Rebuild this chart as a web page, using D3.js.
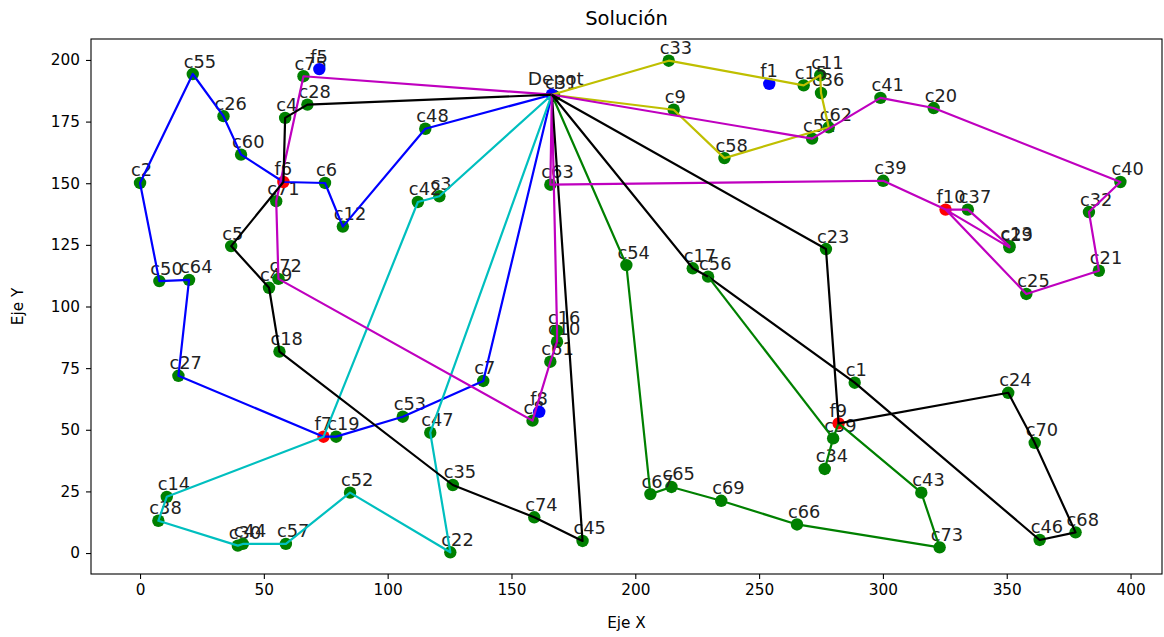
<!DOCTYPE html>
<html>
<head>
<meta charset="utf-8">
<script src="https://cdn.jsdelivr.net/npm/d3@7.9.0/dist/d3.min.js"></script>
<style>
  body { margin: 0; background: #fff; }
  svg { font-family: "DejaVu Sans", sans-serif; }
</style>
</head>
<body>
<svg id="chart" width="1164" height="637"></svg>
<script>
// node names and coordinates
const customerNames = ['c1','c2','c3','c4','c5','c6','c7','c8','c9','c10','c11','c12','c13','c14','c15','c16','c17','c18','c19','c20',
  'c21','c22','c23','c24','c25','c26','c27','c28','c29','c30','c31','c32','c33','c34','c35','c36','c37','c38','c39','c40',
  'c41','c42','c43','c44','c45','c46','c47','c48','c49','c50','c51','c52','c53','c54','c55','c56','c57','c58','c59','c60',
  'c61','c62','c63','c64','c65','c66','c67','c68','c69','c70','c71','c72','c73','c74','c75'];
const customerX = [288.6,0,120.9,58.6,36.8,74.7,138.6,158.5,215.5,168.4,274.7,81.9,351.1,10.8,268,168.4,223.2,56.3,79.2,320.5,
  387.2,125.3,277,350.6,357.9,33.7,15.5,67.6,351.1,39.5,167.2,383.2,213.5,276.5,126.3,275,334.3,7.4,300.1,395.9,
  299,112.2,315.5,41.5,178.7,363.3,117.2,115.2,52.1,7.8,271.4,84.8,106.1,196.4,21.3,229.4,58.9,236,279.9,40.8,
  165.7,278.1,165.7,19.8,214.6,265.3,206.1,377.8,234.7,361.3,55,55.9,322.9,159.2,66];
const customerY = [69.1,150.1,144.7,176.5,124.5,150.1,69.8,53.7,179.8,85.7,193.8,132.4,124.5,22.8,189.7,90.2,115.5,81.7,47.2,180.5,
  114.5,0.3,123.3,65,105.1,177.2,71.9,181.9,124,3,185.4,138.3,199.7,34.1,27.6,186.6,139.3,13.1,151,150.5,
  184.6,142.4,24.5,3.7,4.9,5.3,48.8,172.1,107.6,110.3,168.1,24.5,55.3,116.8,194.3,112.1,3.7,160.2,46.5,161.6,
  77.6,172.7,149.4,110.8,26.8,11.6,23.9,8.4,21.2,44.7,142.7,111.2,2.3,14.5,193.4];

const stationNames = ['f1','f5','f6','f7','f8','f9','f10'];
const stationX = [254.1,72.4,57.9,74.1,161.2,282.1,325.3];
const stationY = [190.3,196.3,150.5,47.2,57.3,52.6,139.3];
const stationUsed = [false,false,true,true,false,true,true];

const depotX = 166.3;
const depotY = 185.9;

// routes as visited stops
const routeStops = [
  ['Depot','c48','c12','c6','f6','c60','c26','c55','c2','c50','c64','c27','f7','c19','c53','c7','Depot'],
  ['Depot','c54','c67','c65','c69','c66','c73','c43','f9','c59','c34'],
  ['Depot','c3','c42','f7','c14','c38','c30','c44','c57','c52','c22','c47','Depot'],
  ['Depot','c75','c71','c72','c8','c61','c10','c16','Depot'],
  ['Depot','c33','c15','c11','c36','c62','c58','c9','Depot'],
  ['Depot','c28','c4','f6','c5','c49','c18','c35','c74','c45','Depot'],
  ['Depot','c63','c39','f10','c37','c13','c29','f10','c25','c21','c32','c40','c20','c41','c51','Depot'],
  ['Depot','c17','c56','c1','c46','c68','c70','c24','f9','c23','Depot'],
  ['c56','c59']
];
const routeColors = ['#0000ff','#008000','#00bfbf','#bf00bf','#bfbf00','#000000','#bf00bf','#000000','#008000'];

const xTicks = [0,50,100,150,200,250,300,350,400];
const yTicks = [0,25,50,75,100,125,150,175,200];

const svg = d3.select('#chart');
const mLeft = 91, mRight = 1162, mTop = 39, mBottom = 574;

const x = d3.scaleLinear().domain([-19.8, 412.7]).range([mLeft, mRight]);
const y = d3.scaleLinear().domain([-8.5, 208.5]).range([mBottom, mTop]);

// lookup of every node
const pos = new Map();
pos.set('Depot', [depotX, depotY]);
customerNames.forEach((n, i) => pos.set(n, [customerX[i], customerY[i]]));
stationNames.forEach((n, i) => pos.set(n, [stationX[i], stationY[i]]));

// axes
const xAxis = svg.append('g')
  .attr('transform', `translate(0,${mBottom})`)
  .call(d3.axisBottom(x).tickValues(xTicks).tickSize(5).tickPadding(5).tickFormat(d3.format('d')));
const yAxis = svg.append('g')
  .attr('transform', `translate(${mLeft},0)`)
  .call(d3.axisLeft(y).tickValues(yTicks).tickSize(5).tickPadding(6).tickFormat(d3.format('d')));
[xAxis, yAxis].forEach(a => {
  a.select('.domain').remove();
  a.selectAll('line').attr('stroke', '#000').attr('stroke-width', 1.1);
  a.selectAll('text').attr('font-size', 15.3).attr('fill', '#000').attr('font-family', 'DejaVu Sans');
});

// frame
svg.append('rect')
  .attr('x', mLeft).attr('y', mTop)
  .attr('width', mRight - mLeft).attr('height', mBottom - mTop)
  .attr('fill', 'none').attr('stroke', '#000').attr('stroke-width', 1.1);

const plot = svg.append('g');
const labelSize = 17.8;

function addLabel(name, px, py) {
  plot.append('text')
    .attr('x', x(px) - 9).attr('y', y(py) - 6.5)
    .attr('font-size', labelSize)
    .attr('fill', '#222')
    .text(name);
}

// customers
customerNames.forEach((n, i) => {
  plot.append('circle')
    .attr('cx', x(customerX[i])).attr('cy', y(customerY[i])).attr('r', 6.2)
    .attr('fill', '#008000');
  addLabel(n, customerX[i], customerY[i]);
});

// stations
stationNames.forEach((n, i) => {
  plot.append('circle')
    .attr('cx', x(stationX[i])).attr('cy', y(stationY[i])).attr('r', 6.2)
    .attr('fill', stationUsed[i] ? '#ff0000' : '#0000ff');
  addLabel(n, stationX[i], stationY[i]);
});

// depot
plot.append('circle')
  .attr('cx', x(depotX)).attr('cy', y(depotY)).attr('r', 6.2)
  .attr('fill', '#0000ff');
plot.append('text')
  .attr('x', x(depotX) + 4).attr('y', y(depotY) - 10)
  .attr('text-anchor', 'middle')
  .attr('font-size', 18.5)
  .attr('fill', '#222')
  .text('Depot');

// route lines
const line = d3.line().x(d => x(d[0])).y(d => y(d[1]));
routeStops.forEach((r, i) => {
  plot.append('path')
    .attr('d', line(r.map(n => pos.get(n))))
    .attr('fill', 'none')
    .attr('stroke', routeColors[i])
    .attr('stroke-width', 2.2)
    .attr('stroke-linejoin', 'round');
});

// titles
svg.append('text')
  .attr('x', (mLeft + mRight) / 2).attr('y', 25)
  .attr('text-anchor', 'middle').attr('font-size', 19.5)
  .text('Solución');
svg.append('text')
  .attr('x', (mLeft + mRight) / 2).attr('y', 628)
  .attr('text-anchor', 'middle').attr('font-size', 15.3)
  .text('Eje X');
svg.append('text')
  .attr('transform', `translate(23,${(mTop + mBottom) / 2}) rotate(-90)`)
  .attr('text-anchor', 'middle').attr('font-size', 15.3)
  .text('Eje Y');
</script>
</body>
</html>
